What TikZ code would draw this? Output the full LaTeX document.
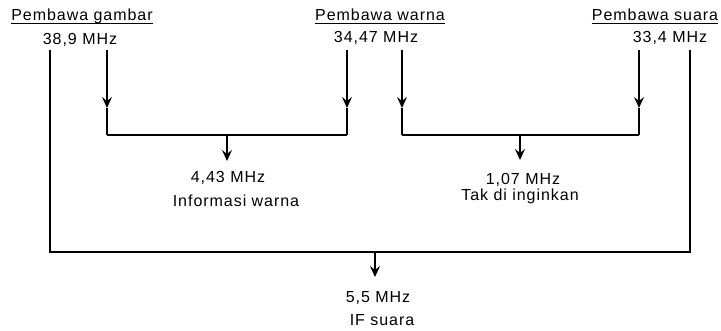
\documentclass[tikz,border=0pt]{standalone}
\usepackage{fontspec}
\setmainfont{Liberation Sans}[LetterSpace=6]
\usetikzlibrary{arrows.meta}
\begin{document}
\begin{tikzpicture}[x=1pt,y=-1pt,
  lbl/.style={anchor=base,inner sep=0pt,font=\fontsize{16}{18}\selectfont},
  wire/.style={line width=1.6pt},
  arr/.style={wire,-{Stealth[length=11pt,width=10pt,inset=4pt]}}]
\useasboundingbox (0,0) rectangle (721,331);
% top labels
\node[lbl] (pg) at (82,21) {Pembawa gambar};
\node[lbl] (fg) at (80,45) {38,9 MHz};
\node[lbl] (pw) at (380,21) {Pembawa warna};
\node[lbl] (fw) at (376,43) {34,47 MHz};
\node[lbl] (ps) at (655,21) {Pembawa suara};
\node[lbl] (fs) at (670,43) {33,4 MHz};
\foreach \n in {pg,pw,ps}
  \draw[line width=0.8pt] ([yshift=-2pt]\n.base west) -- ([yshift=-2pt]\n.base east);
% lower labels
\node[lbl] (f1) at (228,183) {4,43 MHz};
\node[lbl] (t1) at (236,207) {Informasi warna};
\node[lbl] (f2) at (523,185) {1,07 MHz};
\node[lbl] (t2) at (520,201) {Tak di inginkan};
\node[lbl] (f3) at (378,303) {5,5 MHz};
\node[lbl] (t3) at (382,326) {IF suara};
% coordinates
\coordinate (a0) at (50,50);   \coordinate (a1) at (50,252);
\coordinate (z0) at (690,50);  \coordinate (z1) at (690,252);
\foreach \n/\x in {b/107,c/347,d/402,e/639}{
  \coordinate (\n0) at (\x,50);
  \coordinate (\n1) at (\x,108);
  \coordinate (\n2) at (\x,135);
}
\coordinate (m1) at (227,135); \coordinate (m1e) at (227,161);
\coordinate (m2) at (520,135); \coordinate (m2e) at (520,160);
\coordinate (m3) at (375,252); \coordinate (m3e) at (375,277);
% wires
\draw[wire] (a0) -- (a1) -- (z1) -- (z0);
\foreach \n in {b,c,d,e}{
  \draw[arr] (\n0) -- (\n1);
  \draw[wire] (\n1) -- (\n2);
}
\draw[wire] (b2) -- (c2);
\draw[wire] (d2) -- (e2);
\draw[arr] (m1) -- (m1e);
\draw[arr] (m2) -- (m2e);
\draw[arr] (m3) -- (m3e);
\end{tikzpicture}
\end{document}
